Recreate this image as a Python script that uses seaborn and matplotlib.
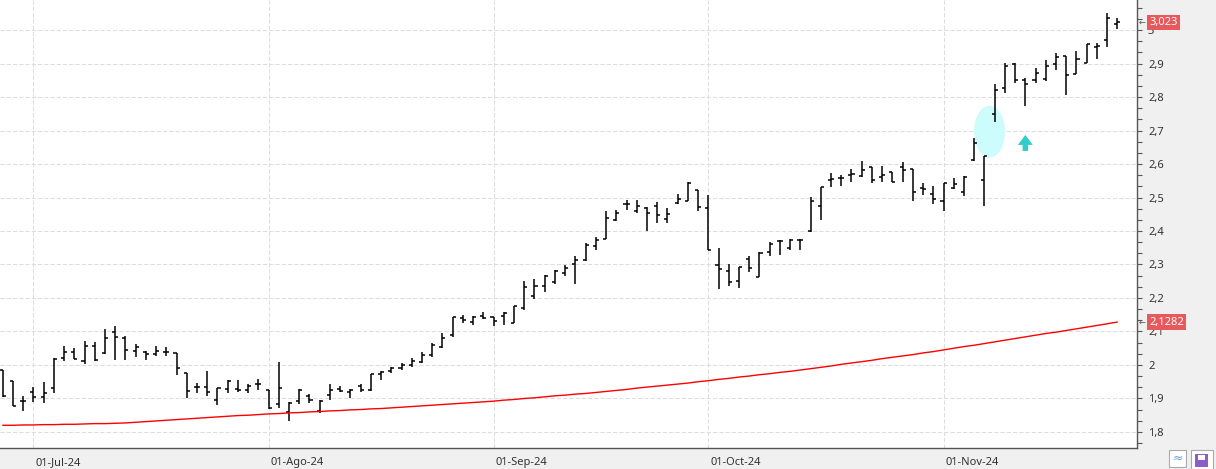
import matplotlib
matplotlib.use("Agg")
import matplotlib.pyplot as plt
import matplotlib.transforms as mtransforms
from matplotlib.patches import Ellipse, Polygon, Rectangle
from matplotlib.ticker import MultipleLocator, FuncFormatter
import numpy as np
import pandas as pd
import seaborn as sns

# daily bars, 26-Jun-24 .. 26-Nov-24 (business days)
opens = [1.985, 1.953, 1.892,
         1.919, 1.905, 1.930, 2.022, 2.038, 2.013, 2.057, 2.035, 2.099, 2.080, 2.041, 2.038, 2.034,
         2.039, 2.035, 1.977, 1.933, 1.934, 1.895, 1.929, 1.929, 1.926, 1.942,
         1.925, 1.885, 1.861, 1.892, 1.908, 1.863, 1.910, 1.929, 1.920, 1.936, 1.925, 1.974, 1.981,
         1.990, 2.000, 2.010, 2.030, 2.055, 2.090, 2.140, 2.127, 2.147,
         2.142, 2.147, 2.125, 2.170, 2.207, 2.237, 2.249, 2.276, 2.300, 2.312, 2.354, 2.377, 2.434,
         2.480, 2.460, 2.470, 2.474, 2.437, 2.484, 2.490, 2.522,
         2.470, 2.299, 2.280, 2.252, 2.317, 2.264, 2.336, 2.370, 2.350, 2.372, 2.400, 2.476, 2.552,
         2.557, 2.567, 2.564, 2.592, 2.562, 2.575, 2.590, 2.584, 2.527, 2.509,
         2.490, 2.527, 2.517, 2.612, 2.552, 2.748, 2.828, 2.898, 2.852, 2.850, 2.855, 2.900, 2.922,
         2.870, 2.902, 2.950, 2.970, 3.018]
highs = [1.985, 1.953, 1.907,
         1.933, 1.950, 2.022, 2.057, 2.050, 2.073, 2.070, 2.107, 2.115, 2.087, 2.063, 2.041, 2.057,
         2.053, 2.035, 1.977, 1.946, 1.983, 1.932, 1.954, 1.954, 1.944, 1.959,
         1.925, 2.010, 1.890, 1.927, 1.913, 1.895, 1.942, 1.938, 1.929, 1.942, 1.972, 1.983, 1.993,
         2.005, 2.020, 2.040, 2.065, 2.095, 2.142, 2.150, 2.147, 2.157,
         2.144, 2.157, 2.177, 2.252, 2.257, 2.269, 2.284, 2.299, 2.324, 2.364, 2.382, 2.460, 2.462,
         2.494, 2.494, 2.472, 2.487, 2.469, 2.510, 2.545, 2.522,
         2.507, 2.350, 2.302, 2.294, 2.324, 2.337, 2.367, 2.374, 2.377, 2.377, 2.502, 2.530, 2.572,
         2.567, 2.584, 2.609, 2.592, 2.594, 2.577, 2.605, 2.584, 2.544, 2.534,
         2.544, 2.557, 2.564, 2.677, 2.625, 2.838, 2.902, 2.902, 2.858, 2.888, 2.910, 2.930, 2.922,
         2.937, 2.958, 2.960, 3.050, 3.035]
lows = [1.905, 1.878, 1.863,
        1.890, 1.888, 1.917, 2.013, 2.017, 2.002, 2.013, 2.033, 2.015, 2.015, 2.023, 2.015, 2.028,
        2.027, 1.970, 1.900, 1.915, 1.908, 1.881, 1.915, 1.919, 1.917, 1.925,
        1.869, 1.873, 1.834, 1.883, 1.887, 1.856, 1.895, 1.918, 1.900, 1.919, 1.923, 1.956, 1.975,
        1.985, 1.995, 2.005, 2.025, 2.050, 2.085, 2.124, 2.120, 2.137,
        2.115, 2.120, 2.125, 2.164, 2.197, 2.217, 2.242, 2.267, 2.242, 2.309, 2.344, 2.377, 2.430,
        2.464, 2.454, 2.400, 2.424, 2.424, 2.482, 2.489, 2.460,
        2.344, 2.227, 2.237, 2.230, 2.277, 2.262, 2.324, 2.327, 2.342, 2.342, 2.398, 2.434, 2.530,
        2.534, 2.547, 2.562, 2.542, 2.547, 2.545, 2.545, 2.490, 2.507, 2.480,
        2.460, 2.524, 2.505, 2.610, 2.476, 2.725, 2.812, 2.842, 2.772, 2.842, 2.848, 2.880, 2.805,
        2.870, 2.902, 2.913, 2.950, 3.003]
closes = [1.907, 1.878, 1.893,
          1.903, 1.916, 2.018, 2.039, 2.018, 2.058, 2.015, 2.080, 2.085, 2.045, 2.055, 2.033, 2.042,
          2.040, 1.990, 1.922, 1.935, 1.919, 1.932, 1.951, 1.925, 1.938, 1.944,
          1.871, 1.932, 1.888, 1.925, 1.895, 1.893, 1.925, 1.923, 1.926, 1.925, 1.972, 1.978, 1.991,
          2.000, 2.012, 2.030, 2.060, 2.080, 2.142, 2.134, 2.144, 2.140,
          2.130, 2.154, 2.176, 2.234, 2.237, 2.265, 2.280, 2.290, 2.312, 2.357, 2.372, 2.440, 2.454,
          2.482, 2.474, 2.454, 2.447, 2.452, 2.496, 2.544, 2.472,
          2.344, 2.286, 2.249, 2.292, 2.290, 2.335, 2.362, 2.371, 2.372, 2.374, 2.490, 2.530, 2.554,
          2.559, 2.570, 2.582, 2.552, 2.567, 2.546, 2.582, 2.517, 2.524, 2.497,
          2.544, 2.540, 2.562, 2.662, 2.625, 2.820, 2.892, 2.850, 2.838, 2.872, 2.892, 2.920, 2.865,
          2.912, 2.958, 2.952, 3.035, 3.023]
# long moving average (red line)
ma = [1.820, 1.820, 1.821, 1.821, 1.822, 1.822, 1.823, 1.823, 1.824, 1.825, 1.825, 1.826, 1.827,
      1.829, 1.831, 1.833, 1.835, 1.837, 1.839, 1.841, 1.843, 1.845, 1.847, 1.849, 1.850, 1.852,
      1.854, 1.855, 1.857, 1.858, 1.860, 1.861, 1.863, 1.864, 1.866, 1.867, 1.869, 1.870, 1.872,
      1.874, 1.876, 1.878, 1.880, 1.882, 1.884, 1.886, 1.888, 1.890,
      1.892, 1.895, 1.897, 1.900, 1.902, 1.905, 1.908, 1.910, 1.913, 1.915,
      1.918, 1.921, 1.924, 1.927, 1.931, 1.934, 1.937, 1.940, 1.943, 1.946, 1.950,
      1.953, 1.957, 1.960, 1.964, 1.967, 1.971, 1.974, 1.978, 1.981,
      1.985, 1.989, 1.993, 1.997, 2.002, 2.006, 2.010, 2.014, 2.019, 2.023, 2.027, 2.031, 2.036, 2.040,
      2.045, 2.050, 2.055, 2.059, 2.064, 2.069, 2.074, 2.079, 2.084, 2.089, 2.094, 2.098, 2.103,
      2.108, 2.113, 2.118, 2.123, 2.1282]
start_date = "2024-06-26"
month_labels = ["01-Jul-24", "01-Ago-24", "01-Sep-24", "01-Oct-24", "01-Nov-24"]

dates = pd.bdate_range(start_date, periods=len(closes))
idx = np.arange(len(closes))
month_pos = [i for i in idx[1:] if dates[i].month != dates[i - 1].month]

sns.set_style("white")
plt.rcParams["font.family"] = ["Noto Sans", "DejaVu Sans"]

fig = plt.figure(figsize=(12.16, 4.69), dpi=100, facecolor="#f0f0f0")
ax = fig.add_axes([0, 21 / 469, 1137 / 1216, 448 / 469])
ax.set_facecolor("white")

# ohlc bars
tick_w = 0.3
ax.vlines(idx, lows, highs, color="black", lw=1.1, zorder=2)
ax.hlines(opens, idx - tick_w, idx, color="black", lw=1.1, zorder=2)
ax.hlines(closes, idx, idx + tick_w, color="black", lw=1.1, zorder=2)

sns.lineplot(x=idx, y=ma, ax=ax, color="red", lw=1.0, legend=False, zorder=2.5)

# annotations
ax.add_patch(Ellipse((96.5, 2.6964), width=3.03, height=0.155, fc="#ccfcfc", ec="none", zorder=1.5))
cx, top, base, bot, hw, sw = 100.0, 2.6866, 2.657, 2.639, 0.73, 0.27
ax.add_patch(Polygon([(cx - sw, bot), (cx - sw, base), (cx - hw, base), (cx, top),
                      (cx + hw, base), (cx + sw, base), (cx + sw, bot)],
                     closed=True, fc="#33cccc", ec="none", zorder=3))

ax.set_xlim(-0.264, 110.92)
ax.set_ylim(1.7522, 3.0896)

ax.yaxis.tick_right()
ax.yaxis.set_major_locator(MultipleLocator(0.1))
ax.yaxis.set_minor_locator(MultipleLocator(0.1 / 3))


def fmt(v, pos):
    s = f"{v:.1f}"
    if s.endswith(".0"):
        s = s[:-2]
    return s.replace(".", ",")


ax.yaxis.set_major_formatter(FuncFormatter(fmt))
ax.tick_params(axis="y", which="both", direction="out", length=3.6, width=0.8,
               color="#555555", pad=4.3, labelsize=8, labelcolor="#333333")
ax.set_xticks(month_pos)
ax.tick_params(axis="x", direction="out", length=6.5, width=0.8, color="#555555", labelbottom=False)

ax.set_axisbelow(True)
ax.grid(True, which="major", color="#dddddd", linestyle=(0, (4, 2)), lw=0.75)

for s in ["top", "left"]:
    ax.spines[s].set_visible(False)
for s in ["right", "bottom"]:
    ax.spines[s].set_color("#555555")
    ax.spines[s].set_linewidth(1.0)

xtrans = mtransforms.blended_transform_factory(ax.transData, ax.transAxes)
for pos, lab in zip(month_pos, month_labels):
    ax.text(pos + 0.2, -0.0379, lab, transform=xtrans, fontsize=8, color="#333333",
            ha="left", va="baseline")

# last value labels
ytrans = mtransforms.blended_transform_factory(fig.transFigure, ax.transData)
for val, txt in [(closes[-1], f"{closes[-1]:.3f}"), (ma[-1], f"{ma[-1]:.4f}")]:
    ax.text(1139 / 1216, val, "←", transform=ytrans, fontsize=6, color="#555555",
            ha="left", va="center", family="DejaVu Sans")
    ax.text(1149 / 1216, val, txt.replace(".", ","), transform=ytrans, fontsize=8, color="white",
            ha="left", va="center", zorder=5,
            bbox=dict(boxstyle="square,pad=0.2", fc="#e8595c", ec="none"))

# toolbar icons bottom right
fig.patches.append(Rectangle((1169 / 1216, 2 / 469), 17 / 1216, 17 / 469, transform=fig.transFigure,
                             fc="white", ec="#aaaaaa", lw=0.8))
fig.text(1177.5 / 1216, 10.5 / 469, "≈", fontsize=9, color="#6a9fd8", ha="center", va="center",
         family="DejaVu Sans")
fig.patches.append(Rectangle((1191 / 1216, 0 / 469), 22 / 1216, 19 / 469, transform=fig.transFigure,
                             fc="white", ec="#aaaaaa", lw=0.8))
fig.patches.append(Rectangle((1195 / 1216, 2 / 469), 13 / 1216, 13 / 469, transform=fig.transFigure,
                             fc="#8e5cc8", ec="none"))
fig.patches.append(Rectangle((1198 / 1216, 9 / 469), 7 / 1216, 5 / 469, transform=fig.transFigure,
                             fc="white", ec="none"))

fig.savefig("out.png", dpi=100, facecolor=fig.get_facecolor())
